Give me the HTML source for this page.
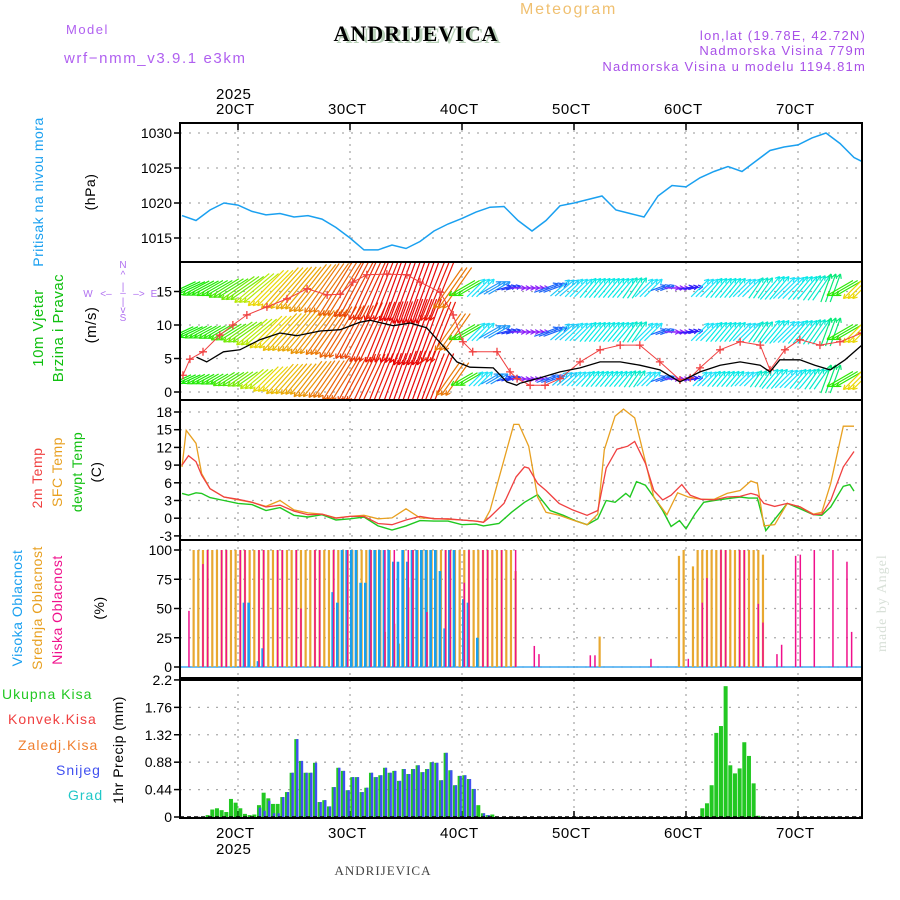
<!DOCTYPE html>
<html><head><meta charset="utf-8">
<style>
html,body{margin:0;padding:0;background:#fff;}
svg{display:block;}
text{font-family:"Liberation Sans",sans-serif;}
</style></head>
<body>
<svg id="chart" width="900" height="900" viewBox="0 0 900 900" xmlns="http://www.w3.org/2000/svg">
<defs>
<clipPath id="cp1"><rect x="180" y="123" width="682" height="139"/></clipPath>
<clipPath id="cp2"><rect x="180" y="262" width="682" height="138"/></clipPath>
<clipPath id="cp3"><rect x="180" y="400" width="682" height="140"/></clipPath>
<clipPath id="cp4"><rect x="180" y="540" width="682" height="138"/></clipPath>
<clipPath id="cp5"><rect x="180" y="680" width="682" height="138"/></clipPath>
</defs>
<text x="66" y="34" font-size="13" fill="#b060f0" letter-spacing="1.5">Model</text>
<text x="64" y="63" font-size="15" fill="#b060f0" letter-spacing="1.6">wrf−nmm_v3.9.1 e3km</text>
<text x="419" y="43" font-size="22" font-weight="bold" fill="#b8d0b8" text-anchor="middle" letter-spacing="1" style="font-family:'Liberation Serif',serif">ANDRIJEVICA</text>
<text x="416" y="41" font-size="22" font-weight="bold" fill="#000" text-anchor="middle" letter-spacing="1" style="font-family:'Liberation Serif',serif">ANDRIJEVICA</text>
<text x="520" y="14" font-size="16" fill="#f0c070" letter-spacing="1.8">Meteogram</text>
<text x="866" y="40" font-size="13" fill="#a850e8" text-anchor="end" letter-spacing="1.2">lon,lat (19.78E, 42.72N)</text>
<text x="866" y="55" font-size="13" fill="#a850e8" text-anchor="end" letter-spacing="1.2">Nadmorska Visina 779m</text>
<text x="866" y="71" font-size="13" fill="#a850e8" text-anchor="end" letter-spacing="1.2">Nadmorska Visina u modelu 1194.81m</text>
<text x="383" y="875" font-size="13" fill="#444" text-anchor="middle" letter-spacing="1" style="font-family:'Liberation Serif',serif">ANDRIJEVICA</text>
<text transform="translate(886,652) rotate(-90)" font-size="14" fill="#d8e0d8" letter-spacing="1" style="font-family:'Liberation Serif',serif">made by Angel</text>
<g id="g"></g>
</svg>
<script>
// ---------- DATA ----------
const dayLabels = ["20CT","30CT","40CT","50CT","60CT","70CT"];
const pressTicks = [1015,1020,1025,1030];
const windTicks = [0,5,10,15];
const tempTicks = [-3,0,3,6,9,12,15,18];
const cloudTicks = [0,25,50,75,100];
const precipTicks = [0,0.44,0.88,1.32,1.76,2.2];

const pressStart = -12; // hours, step 3
const pressure = [1018.2,1017.5,1019,1020,1019.7,1018.8,1018.3,1018.5,1018,1018.2,1017.7,1016.5,1015,1013.3,1013.3,1014,1013.5,1014.5,1016,1017,1017.8,1018.7,1019.4,1019.5,1017.5,1016,1017.5,1019.6,1020,1020.5,1021,1019,1018.5,1018,1021,1022.5,1022.3,1023.6,1024.5,1025.2,1024.5,1026,1027.5,1028,1028.3,1029.3,1030,1028.5,1026.5,1025.5];

const windStart = -12; // step 3
const windDir = [65,62,60,58,55,50,45,42,40,38,35,32,28,25,22,20,20,20,22,35,60,225,240,255,270,270,250,230,225,220,220,220,215,225,250,270,260,225,220,220,225,215,220,225,220,215,200,60,45];
const windLow = [4,4,4,5,5,6,7,8,8,9,9,10,10,11,11,11,12,12,11,8,5,4,4,3,3,3,4,4,4,4,4,4,4,4,3,3,3,4,4,4,4,4,5,5,5,5,6,6,6];
const windMid = [5,5,5,6,7,8,9,10,10,11,11,12,12,13,13,13,14,14,13,9,6,5,5,3,3,3,5,5,5,5,5,5,5,5,3,3,3,5,5,5,5,5,6,6,6,6,6,6,6];
const windHigh = [6,6,6,7,8,9,10,11,11,12,12,13,13,14,14,14,15,15,14,10,6,5,5,3,3,3,5,5,5,5,5,5,5,5,3,3,3,5,5,5,5,5,6,6,6,6,6,6,6];
const speedHours = [-8.9,-6.7,-3.1,0.4,4.7,9,12.6,17.6,21.9,26.1,28.3,33.3,36.9,40.4,44.7,46.9,49.7,54.7,57.6,59.7,60.4,64.7,69,73.3,77.6,81.9,86.1,90.4,94.7,99,103.3,107.6,111.9,114,116.1,120.4,123.6,126.9,130.1,133.7];
const speedVals = [5.2,4.5,6,6.3,7.8,8.8,8.4,9.1,9.3,10.4,10.7,9.9,10.3,9.6,6.3,4.5,3.7,3.6,1.5,1.0,1.3,2.1,3,3.6,4.5,4.5,4,3.3,1.5,3,4,4.5,4,3,4.8,4.8,4,3.3,4.8,7];
const gustHours = [-11.8,-10.3,-7.5,-3.9,-1.1,1.9,6.2,10.5,14.8,19.1,21.9,24.6,27.6,31.9,36.2,39,43.3,46.1,48.2,50.3,55.5,58.3,59.8,62.6,65.8,69,73.3,77.6,81.9,86.1,90.4,94.7,96.9,99,103.3,107.6,111.9,114,117.2,120.4,124.7,129,133.7];
const gustVals = [2.5,4.9,6,8.5,10,11.5,12.7,13.9,15.4,14.5,14.6,16.4,17.5,17.6,17.5,16.4,14.9,11.5,7.5,6,6,3,2,1,1,2,4.5,6.3,7,7,4.5,1.8,2.1,3.6,6.3,7.5,7,3.3,6.3,7.8,7,7.5,8.8];

const sfcHours = [-12,-11.1,-9,-7.8,-6,-3,0,3,6,9,12,15,18,21,24,27,30,33,36,39,42,45,48,51,52.6,54,57,59.1,60.2,62.3,64.2,66,68.8,71.7,74.8,77.1,78.5,80.8,82.6,85,87.3,89.1,91.9,94.2,96.5,99.3,102,104.8,107.6,109.9,111.3,112.7,115,117.7,120.5,123.3,125.1,127,129.7,132];
const sfcTemp = [8.7,14.9,12.7,7.6,5,3.6,3.1,2.7,2,3,1.4,0.9,0.7,0.05,0.3,0.5,-0.1,0.05,1.6,0.05,-0.05,-0.2,-0.3,-0.5,-0.7,1.3,9.9,15.9,15.9,12.2,3.6,1,0.5,-0.3,-1.1,0.7,11.6,17.3,18.5,17,9.6,3.6,0.6,4.3,3.6,3.2,3.2,4.2,4.7,6.3,5.9,-1.3,-1.1,2.5,1.9,0.7,1,5.9,15.6,15.6];
const t2Hours = [-12,-10.6,-9,-7.8,-6,-3,0,3,6,9,12,15,18,21,24,27,30,33,36,39,42,45,48,51,52.6,54,57,59.6,61.4,62.3,64.2,66,68.8,71.7,74.8,77.1,78.9,81.2,83.5,85,87.3,89.1,91,92.8,95.1,96.9,99.3,102,104.8,107.6,109.9,111.3,112.7,115,117.7,120.5,123.3,125.1,127,129.7,132];
const t2Temp = [9,10.6,9.6,7.3,5,3.6,3.2,2.7,1.9,2.2,1.2,0.6,0.7,0,0.3,0.3,-0.9,-1.1,-0.3,0.3,-0.1,-0.1,-0.3,-0.5,-0.7,0.2,2.5,7,8.7,8.5,5.9,4.7,2.5,1.4,0.5,1.3,8.5,11.7,12.2,13,9.3,4.7,3.1,3.9,5.7,3.9,3.2,3.1,3.6,3.7,4.2,3.9,2.5,2,2.5,1.9,0.6,0.7,3,8.7,11.3];
const dewHours = [-12,-10.6,-9,-7.8,-6,-3,0,3,6,9,12,15,18,21,24,27,30,33,36,39,42,45,48,51,52.6,55.9,58.6,61.4,64.2,66.9,69.7,72.5,74.8,77.1,78.9,80.8,83.1,84,85.4,87.3,89.1,91,92.8,94.6,96,97.9,99.8,102,104.8,107.6,109.4,111.3,113.1,115.9,117.7,120.5,123.3,125.1,127,129.7,131.1,132];
const dewTemp = [4.2,3.9,4.3,4.2,3.5,3,2.5,2.3,1.3,1.8,0.5,0.2,0.6,-0.3,-0.1,0.2,-1.3,-2,-1.3,-0.4,-0.5,-0.5,-1.1,-1,-1.3,-0.9,1,2.7,4,1.3,0.5,-0.5,-1.1,-0.1,3,2.7,4.2,3.6,6.2,5.6,3.6,1.3,-1.4,-0.4,-1.8,0.7,2.7,3,3.3,3.6,3.4,3.4,-2.1,0.7,2.5,1.6,0.6,0.5,1.9,5.4,5.7,4.6];

const midHours = [-10,-9,-8,-7,-6,-5,-4,-3,-2,-1,0,1,2,3,4,5,6,7,8,9,10,11,12,13,14,15,16,17,18,19,20,21,22,23,24,25,26,27,28,29,30,31,32,33,34,35,36,37,38,39,40,41,42,43,44,45,46,47,48,49,50,51,52,53,54,55,56,57,58,59,77,94,95,97,98,99,100,101,102,103,104,105,106,107,108,109,110,111,112];
const midCloud = [100,100,100,100,100,100,100,100,100,100,100,100,100,100,100,100,100,100,100,100,100,100,100,100,100,100,100,100,100,100,100,100,100,100,100,100,100,100,100,100,100,30,100,37,20,100,68,100,100,100,100,100,100,100,100,100,100,100,100,100,100,100,100,100,100,100,100,100,100,82,26,95,100,86,100,100,100,100,100,100,100,100,100,100,100,100,100,100,96];
const highHours = [1,2,4,5,20,21,22,23,24,25,26,27,28,29,30,31,32,33,34,35,36,37,38,39,40,41,42,43,44,45,46,48,49,51];
const highCloud = [55,55,5,16,64,55,100,100,100,100,72,72,100,100,100,100,100,90,90,100,90,100,100,100,100,100,100,82,33,100,100,58,55,25];
const lowHours = [-11,-8,-7,-4,-3,0,1,4,5,8,9,12,13,16,17,20,23,28,31,33,36,37,40,44,45,48,49,52,53,56,59,63,64,75,76,88,96,99,100,103,104,107,108,111,112,115,116,119,120,123,127,130,131];
const lowCloud = [48,88,100,100,100,100,100,100,100,100,100,100,50,100,100,100,100,100,100,100,100,100,47,100,100,72,100,100,100,100,100,18,11,10,10,7,7,55,76,100,100,100,100,54,38,11,19,95,96,100,100,90,30];

const rainStartA = -7;
const rainA = [0.03,0.12,0.14,0.11,0.08,0.29,0.23,0.14,0.05,0.03,0.04,0.19,0.39,0.30,0.21,0.21,0.32,0.40,0.71,1.25,0.90,0.71,0.71,0.87,0.24,0.27,0.17,0.48,0.79,0.74,0.43,0.64,0.64,0.40,0.47,0.71,0.64,0.67,0.79,0.71,0.74,0.58,0.77,0.69,0.77,0.83,0.72,0.77,0.88,0.87,0.59,1.03,0.75,0.51,0.66,0.67,0.61,0.45,0.19,0.06,0.03,0.04];
const snowA = [0,0,0,0,0,0,0,0,0,0,0,0.15,0.10,0.26,0.06,0.06,0.32,0.40,0.71,1.25,0.90,0.71,0.71,0.87,0.24,0.27,0.17,0.48,0.79,0.74,0.43,0.64,0.64,0.40,0.47,0.71,0.64,0.67,0.79,0.71,0.74,0.58,0.77,0.69,0.77,0.83,0.72,0.77,0.88,0.87,0.59,1.03,0.75,0.51,0.66,0.67,0.61,0.45,0,0.06,0.03,0];
const rainStartB = 99;
const rainB = [0.14,0.22,0.51,1.35,1.46,2.1,0.83,0.70,0.78,1.2,0.98,0.54,0.02];

// ---------- HELPERS ----------
const NS = "http://www.w3.org/2000/svg";
const root = document.getElementById("g");
function mk(tag, attrs, parent){
  const e = document.createElementNS(NS, tag);
  for (const k in attrs) e.setAttribute(k, attrs[k]);
  (parent||root).appendChild(e);
  return e;
}
const X = h => 238 + h*112/24;
const Yp = v => 133 + (1030 - v)*7;
const Yw = v => 392 - v*6.7;
const Yt = v => 412 + (18 - v)*5.9;
const Yc = v => 667 - v*1.17;
const Yr = v => 817 - v*62.3;
const L = 180, R = 862;

function hgrid(y){
  const l = mk("line",{x1:L,x2:R,y1:y,y2:y,stroke:"#aaa","stroke-width":1.3,"stroke-dasharray":"2,7"});
  
  
}
const panels = [[123,262],[262,400],[400,540],[540,678],[680,818]];
for (const p of panels){
  for (let d=0; d<6; d++){
    const l = mk("line",{x1:X(d*24),x2:X(d*24),y1:p[0],y2:p[1],stroke:"#aaa","stroke-width":1.3,"stroke-dasharray":"2,5"});
    
    
  }
}
function ticks(vals, yf, fmt, name){
  for (const v of vals){
    const y = yf(v);
    hgrid(y);
    const t = mk("line",{x1:L-6,x2:L,y1:y,y2:y,stroke:"#000","stroke-width":1.5});
    
    
    const tx = mk("text",{x:L-8,y:y+5,"font-size":14,"text-anchor":"end",fill:"#000"});
    
    
    tx.textContent = fmt(v);
  }
}
ticks(pressTicks, Yp, v=>v, 'pressure');
ticks(windTicks, Yw, v=>v, 'wind');
ticks(tempTicks, Yt, v=>v, 'temp');
ticks(cloudTicks, Yc, v=>v, 'cloud');
ticks(precipTicks, Yr, v=>v, 'precip');

dayLabels.forEach((s,i)=>{
  const t1 = mk("text",{x:X(i*24)-22,y:114,"font-size":15,fill:"#000","letter-spacing":0.5});
  
  
  t1.textContent = s;
  const t2 = mk("text",{x:X(i*24)-22,y:838,"font-size":15,fill:"#000","letter-spacing":0.5});
  
  
  t2.textContent = s;
  for (const yy of [[123,130],[811,818]]){
    const tk = mk("line",{x1:X(i*24),x2:X(i*24),y1:yy[0],y2:yy[1],stroke:"#000","stroke-width":1.5});
    
    
  }
});
const yTop = mk("text",{x:X(0)-22,y:99,"font-size":15,fill:"#000","letter-spacing":0.5});


yTop.textContent = "2025";
const yBot = mk("text",{x:X(0)-22,y:854,"font-size":15,fill:"#000","letter-spacing":0.5});


yBot.textContent = "2025";

function poly(hours, vals, yf, color, clip, name, w){
  const pts = hours.map((h,i)=>X(h).toFixed(1)+","+yf(vals[i]).toFixed(1)).join(" ");
  const p = mk("polyline",{points:pts,fill:"none",stroke:color,"stroke-width":w||1.3,"clip-path":"url(#"+clip+")"});
  
  
  return p;
}

// Panel 1 pressure
poly(pressure.map((v,i)=>pressStart+i*3), pressure, Yp, "#1aa0f0", "cp1", "pressure-line", 1.5);

// Panel 2 wind arrows
const hueStops = [[0,330],[20,0],[35,30],[45,55],[60,110],[90,150],[200,150],[215,172],[225,186],[250,220],[270,270],[360,330]];
function dirColor(a){
  let hue = 0;
  for (let i=0;i<hueStops.length-1;i++){
    const [a0,h0] = hueStops[i], [a1,h1] = hueStops[i+1];
    if (a >= a0 && a <= a1){ hue = h0 + (h1-h0)*(a-a0)/(a1-a0); break; }
  }
  return "hsl("+hue+",95%,"+(hue>180&&hue<300?55:47)+"%)";
}
const windGroup = mk("g",{"clip-path":"url(#cp2)"});


const levels = [[windLow,379],[windMid,332],[windHigh,288]];
for (const [spd, base] of levels){
  spd.forEach((s,i)=>{
    const a = (windDir[i]+180)*Math.PI/180; // downwind
    const col = dirColor(windDir[i]);
    const ux = Math.sin(a), uy = -Math.cos(a);
    const len = s*5;
    for (let k=0;k<3;k++){
      const h = windStart + i*3 + k;
      const xc = X(h), yc = base;
      const x0 = xc - ux*len/2, y0 = yc - uy*len/2;
      const x1 = xc + ux*len/2, y1 = yc + uy*len/2;
      const ln = mk("line",{x1:x0,y1:y0,x2:x1,y2:y1,stroke:col,"stroke-width":1.2},windGroup);
      
      
      for (const sgn of [1,-1]){
        const c = Math.cos(0.5), sn = Math.sin(0.5)*sgn;
        const hx = -ux*c + uy*sn, hy = -ux*sn*-1*-1 - uy*c;
        const bx = -(ux*c - uy*sn), by = -(ux*sn + uy*c);
        const hd = mk("line",{x1:x1,y1:y1,x2:x1+bx*5,y2:y1+by*5,stroke:col,"stroke-width":1.2},windGroup);
        
        
      }
    }
  });
}
poly(gustHours, gustVals, Yw, "#f04040", "cp2", "gust-line", 1);
gustHours.forEach((h,i)=>{
  const x = X(h), y = Yw(gustVals[i]);
  const m = mk("path",{d:`M${x-4},${y}H${x+4}M${x},${y-4}V${y+4}`,stroke:"#f04040","stroke-width":1.3,"clip-path":"url(#cp2)"});
  
  
});
poly(speedHours, speedVals, Yw, "#000", "cp2", "wind-speed-line", 1.3);

// Panel 3 temperature
poly(dewHours, dewTemp, Yt, "#20c820", "cp3", "dewpoint-line", 1.4);
poly(sfcHours, sfcTemp, Yt, "#e8a020", "cp3", "sfc-temp-line", 1.3);
poly(t2Hours, t2Temp, Yt, "#f04040", "cp3", "t2m-line", 1.3);

// Panel 4 clouds
const baseLine = mk("line",{x1:L,x2:R,y1:Yc(0),y2:Yc(0),stroke:"#40a8f0","stroke-width":1.5});


function bars(hours, vals, yf, color, w, off, clip, name){
  hours.forEach((h,i)=>{
    const x = X(h)+off, y = yf(vals[i]), y0 = yf(0);
    const r = mk("rect",{x:x-w/2,y:Math.min(y,y0),width:w,height:Math.abs(y0-y),fill:color,"clip-path":"url(#"+clip+")"});
    
    
  });
}
bars(midHours, midCloud, Yc, "#e8a830", 2.2, 2.3, "cp4", "mid-cloud-bar");
bars(highHours, highCloud, Yc, "#18a0f0", 2.6, 1.3, "cp4", "high-cloud-bar");
bars(lowHours, lowCloud, Yc, "#f0108c", 1.5, 2.3, "cp4", "low-cloud-bar");

// Panel 5 precipitation
bars(rainA.map((v,i)=>rainStartA+i), rainA, Yr, "#22c822", 4, 2.3, "cp5", "total-precip-bar");
bars(snowA.map((v,i)=>rainStartA+i), snowA, Yr, "#4050f0", 2.4, 3.3, "cp5", "snow-bar");
bars(rainB.map((v,i)=>rainStartB+i), rainB, Yr, "#22c822", 4, 2.3, "cp5", "total-precip-bar");
const pz = mk("line",{x1:L,x2:R,y1:817,y2:817,stroke:"#000","stroke-width":1.5,"stroke-dasharray":"4,3"});



for (const p of panels){
  const r = mk("rect",{x:L,y:p[0],width:R-L,height:p[1]-p[0],fill:"none",stroke:"#000","stroke-width":2});
  
  
}

function vlabel(x, yc, txt, color, size, name){
  const t = mk("text",{transform:`translate(${x},${yc}) rotate(-90)`,"text-anchor":"middle","font-size":size||14,fill:color,"letter-spacing":0.5});
  
  
  t.textContent = txt;
}
vlabel(43,192,"Pritisak na nivou mora","#1aa0f0",14,"pressure-title");
vlabel(95,192,"(hPa)","#000",14,"pressure-unit");
vlabel(43,328,"10m Vjetar","#10c010",15,"wind-title");
vlabel(63,328,"Brzina i Pravac","#10c010",15,"wind-subtitle");
vlabel(96,325,"(m/s)","#000",15,"wind-unit");
vlabel(42,478,"2m Temp","#f04040",14,"t2m-title");
vlabel(62,472,"SFC Temp","#e8a020",14,"sfc-title");
vlabel(82,472,"dewpt Temp","#10c010",14,"dewpt-title");
vlabel(101,472,"(C)","#000",14,"temp-unit");
vlabel(22,608,"Visoka Oblacnost","#1aa0f0",14,"high-cloud-title");
vlabel(42,608,"Srednja Oblacnost","#e8a020",14,"mid-cloud-title");
vlabel(62,610,"Niska Oblacnost","#f0108c",14,"low-cloud-title");
vlabel(104,608,"(%)","#000",14,"cloud-unit");
vlabel(123,750,"1hr Precip (mm)","#000",14,"precip-unit");
const legend = [["Ukupna Kisa","#22c822",2,699],["Konvek.Kisa","#f04040",8,724],["Zaledj.Kisa","#f08030",18,750],["Snijeg","#4050f0",56,775],["Grad","#20c8c8",68,800]];
for (const [t,c,x,y] of legend){
  const e = mk("text",{x:x,y:y,"font-size":14,fill:c,"letter-spacing":1});
  
  
  e.textContent = t;
}
const rose = [["N",123,268],["^",123,278],["|",123,290],["W",88,297],["<–",106,297],["–",123,296],["–>",139,297],["E",154,297],["|",123,305],["v",123,313],["S",123,321]];
for (const [t,x,y] of rose){
  const e = mk("text",{x:x,y:y,"font-size":10,fill:"#b070f0","text-anchor":"middle"});
  
  
  e.textContent = t;
}
</script>
</body></html>
